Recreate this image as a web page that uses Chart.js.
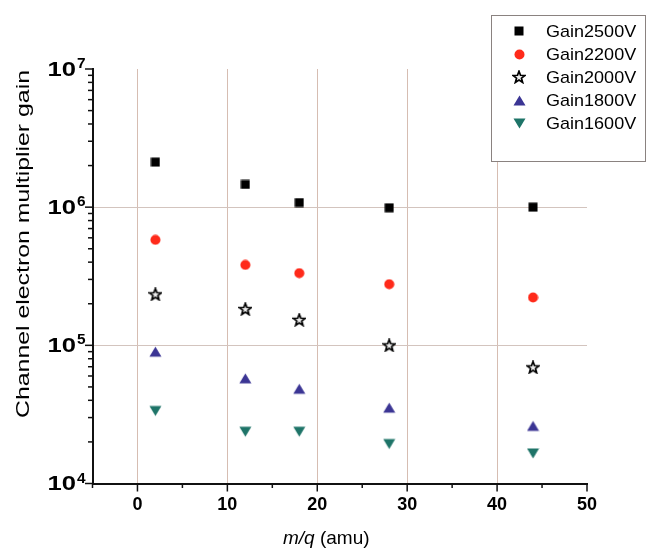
<!DOCTYPE html>
<html>
<head>
<meta charset="utf-8">
<script src="https://cdn.jsdelivr.net/npm/chart.js@4"></script>
<style>
  html, body { margin: 0; padding: 0; background: #fff; }
  #wrap { width: 648px; height: 549px; }
</style>
</head>
<body>
<div id="wrap"><canvas id="myChart" width="648" height="549"></canvas></div>
<script>
// data
const mq = [2, 12, 18, 28, 44];
const gain2500 = [2.12e6, 1.46e6, 1.08e6, 0.99e6, 1.0e6];
const gain2200 = [5.8e5, 3.82e5, 3.33e5, 2.77e5, 2.22e5];
const gain2000 = [2.34e5, 1.83e5, 1.53e5, 1.0e5, 6.93e4];
const gain1800 = [9.0e4, 5.77e4, 4.85e4, 3.54e4, 2.61e4];
const gain1600 = [3.35e4, 2.37e4, 2.37e4, 1.93e4, 1.65e4];
const seriesLabels = ['Gain2500V', 'Gain2200V', 'Gain2000V', 'Gain1800V', 'Gain1600V'];
const xTicks = [0, 10, 20, 30, 40, 50];
const yTicks = [1e4, 1e5, 1e6, 1e7];

const FONT = '"Liberation Sans", Arial, sans-serif';

function marker(size, draw) {
    const c = document.createElement('canvas');
    c.width = size; c.height = size;
    draw(c.getContext('2d'), size);
    return c;
}
const squareImg = marker(10, (g) => { g.fillStyle = '#000'; g.fillRect(0.5, 0.5, 9, 9); });
const circleImg = marker(11, (g) => {
    g.fillStyle = '#ff2a1a'; g.beginPath(); g.arc(5.5, 5.5, 5, 0, Math.PI * 2); g.fill();
});
const starImg = marker(14, (g) => {
    g.beginPath();
    for (let i = 0; i < 10; i++) {
        const r = i % 2 ? 2.6 : 6.2;
        const a = -Math.PI / 2 + i * Math.PI / 5;
        g.lineTo(7 + r * Math.cos(a), 7.4 + r * Math.sin(a));
    }
    g.closePath();
    g.fillStyle = '#eee'; g.fill();
    g.strokeStyle = '#000'; g.lineWidth = 1.7; g.stroke();
});
const triUpImg = marker(13, (g) => {
    g.fillStyle = '#3b3594'; g.beginPath();
    g.moveTo(6.5, 1.5); g.lineTo(12.5, 11.5); g.lineTo(0.5, 11.5); g.closePath(); g.fill();
});
const triDownImg = marker(13, (g) => {
    g.fillStyle = '#1e7468'; g.beginPath();
    g.moveTo(0.5, 1.5); g.lineTo(12.5, 1.5); g.lineTo(6.5, 11.5); g.closePath(); g.fill();
});

function pts(ys) {
    return mq.map((x, i) => ({x: x, y: ys[i]}));
}

function stretchText(ctx, text, x, y, sx) {
    ctx.save();
    ctx.translate(x, y);
    ctx.scale(sx, 1);
    ctx.fillText(text, 0, 0);
    ctx.restore();
}

// tick marks, y labels, axis titles and the legend box
const decorations = {
    id: 'decorations',
    afterDraw(chart) {
        const ctx = chart.ctx;
        const xs = chart.scales.x, ys = chart.scales.y;
        const area = chart.chartArea;
        ctx.save();
        ctx.strokeStyle = '#111';
        ctx.lineWidth = 1.5;
        // x ticks
        for (let v = -5; v <= 50; v += 5) {
            const px = xs.getPixelForValue(v);
            const len = v % 10 === 0 ? 8 : 4.5;
            ctx.beginPath(); ctx.moveTo(px, area.bottom); ctx.lineTo(px, area.bottom + len); ctx.stroke();
        }
        // y ticks
        for (let d = 4; d <= 7; d++) {
            for (let m = 1; m <= 9; m++) {
                if (d === 7 && m > 1) break;
                const py = ys.getPixelForValue(m * Math.pow(10, d));
                const len = m === 1 ? 7.5 : 4.5;
                ctx.beginPath(); ctx.moveTo(area.left, py); ctx.lineTo(area.left - len, py); ctx.stroke();
            }
        }
        // y labels 10^n
        ctx.fillStyle = '#000';
        for (const v of yTicks) {
            const py = ys.getPixelForValue(v);
            ctx.font = 'bold 20px ' + FONT;
            ctx.textAlign = 'right';
            ctx.textBaseline = 'middle';
            stretchText(ctx, '10', 76, py + 1, 1.28);
            ctx.font = 'bold 14px ' + FONT;
            ctx.textAlign = 'left';
            ctx.textBaseline = 'alphabetic';
            stretchText(ctx, String(Math.round(Math.log10(v))), 77, py - 1, 1.1);
        }
        // y title
        ctx.font = '18px ' + FONT;
        ctx.textAlign = 'center';
        ctx.textBaseline = 'middle';
        const yTitle = 'Channel electron multiplier gain';
        const sy = 348 / ctx.measureText(yTitle).width;
        ctx.save();
        ctx.translate(24, 244);
        ctx.rotate(-Math.PI / 2);
        ctx.scale(sy, 1);
        ctx.fillText(yTitle, 0, 0);
        ctx.restore();
        // x title
        ctx.textAlign = 'left';
        ctx.textBaseline = 'alphabetic';
        ctx.font = 'italic 19px ' + FONT;
        const w1 = ctx.measureText('m/q').width;
        ctx.fillText('m/q', 283, 544);
        ctx.font = '19px ' + FONT;
        ctx.fillText(' (amu)', 283 + w1, 544);
        // legend
        ctx.fillStyle = '#fff';
        ctx.fillRect(491.5, 15.5, 154, 146);
        ctx.strokeStyle = '#8a8280';
        ctx.lineWidth = 1;
        ctx.strokeRect(491.5, 15.5, 154, 146);
        ctx.font = '17px ' + FONT;
        ctx.textBaseline = 'middle';
        ctx.fillStyle = '#000';
        chart.data.datasets.forEach((ds, i) => {
            const ly = 31 + i * 23.2;
            const img = ds.pointStyle;
            ctx.drawImage(img, Math.round(519 - img.width / 2), Math.round(ly - img.height / 2));
            stretchText(ctx, ds.label, 546, ly + 1, 1.06);
        });
        ctx.restore();
    }
};

const ctx = document.getElementById('myChart');
new Chart(ctx, {
    type: 'scatter',
    data: {
        datasets: [
            {label: seriesLabels[0], data: pts(gain2500), pointStyle: squareImg},
            {label: seriesLabels[1], data: pts(gain2200), pointStyle: circleImg},
            {label: seriesLabels[2], data: pts(gain2000), pointStyle: starImg},
            {label: seriesLabels[3], data: pts(gain1800), pointStyle: triUpImg},
            {label: seriesLabels[4], data: pts(gain1600), pointStyle: triDownImg}
        ].map(d => Object.assign(d, {pointRadius: 5, pointHoverRadius: 5, showLine: false}))
    },
    options: {
        responsive: false,
        animation: false,
        events: [],
        layout: {padding: {left: 12, top: 69, right: 61, bottom: 0}},
        plugins: {
            legend: {display: false},
            tooltip: {enabled: false}
        },
        scales: {
            x: {
                type: 'linear',
                min: -5,
                max: 50,
                afterBuildTicks: (s) => { s.ticks = xTicks.map(v => ({value: v})); },
                afterFit: (s) => { s.height = 65.5; },
                ticks: {
                    color: '#000',
                    padding: 11,
                    font: {family: FONT, size: 18, weight: 'bold'}
                },
                grid: {
                    drawTicks: false,
                    lineWidth: 1,
                    color: (c) => (c.tick && c.tick.value === 50) ? 'rgba(0,0,0,0)' : '#d6bdb2'
                },
                border: {display: true, color: '#111', width: 2}
            },
            y: {
                type: 'logarithmic',
                min: 1e4,
                max: 1e7,
                afterBuildTicks: (s) => { s.ticks = yTicks.map(v => ({value: v})); },
                afterFit: (s) => { s.width = 80.5; },
                ticks: {display: false},
                grid: {
                    drawTicks: false,
                    lineWidth: 1,
                    color: (c) => (c.tick && (c.tick.value === 1e5 || c.tick.value === 1e6)) ? '#d3c4be' : 'rgba(0,0,0,0)'
                },
                border: {display: true, color: '#111', width: 2}
            }
        }
    },
    plugins: [decorations]
});
</script>
</body>
</html>
